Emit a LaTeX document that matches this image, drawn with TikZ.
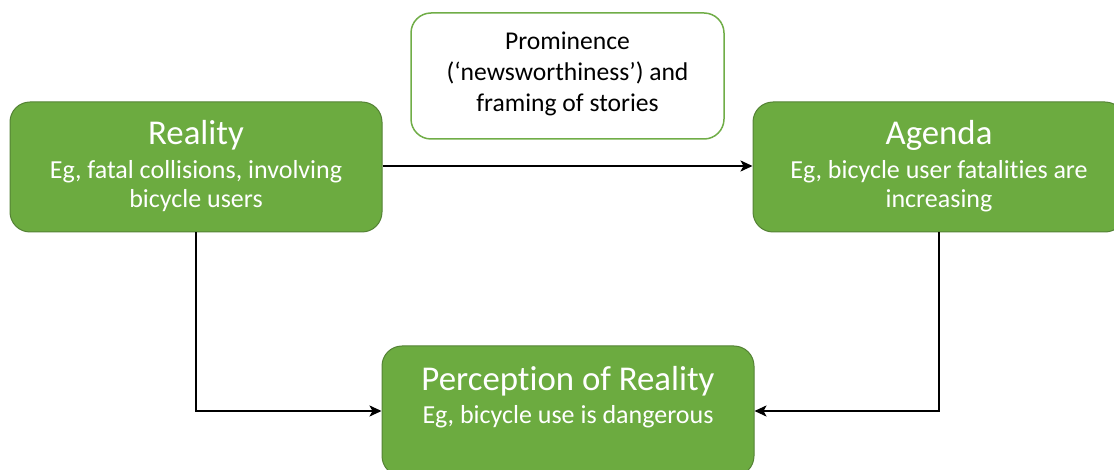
\documentclass[tikz,border=0pt]{standalone}
\usepackage{fontspec}
\setmainfont{Carlito}[Ligatures=NoCommon]
\usetikzlibrary{arrows.meta}
\definecolor{boxfill}{HTML}{6CAB40}
\definecolor{boxline}{HTML}{548235}
\definecolor{lightline}{HTML}{70AD47}
\tikzset{
  greenbox/.style={draw=boxline, line width=1pt, fill=boxfill, rounded corners=20pt, minimum width=372pt, minimum height=130pt, inner sep=0pt},
  whitebox/.style={draw=lightline, line width=1.5pt, fill=white, rounded corners=20pt, minimum width=313pt, minimum height=126pt, inner sep=0pt},
  titletext/.style={text=white, font=\fontsize{34.8}{40}\selectfont, anchor=base, inner sep=0pt},
  subtext/.style={text=white, font=\fontsize{26}{29}\selectfont, align=center, anchor=base, inner sep=0pt},
  blacktext/.style={text=black, font=\fontsize{25.6}{31.2}\selectfont, align=center, anchor=base, inner sep=0pt},
  conn/.style={draw=black, line width=2pt, -{Stealth[length=12pt,width=11pt,inset=3pt]}}
}
\begin{document}
\begin{tikzpicture}[x=1pt,y=-1pt]
\useasboundingbox (0,0) rectangle (1114,470);
\node[greenbox] (reality) at (196,167) {};
\node[greenbox] (agenda) at (939,167) {};
\node[greenbox] (perception) at (568,411) {};
\node[whitebox] (prominence) at (567.5,76) {};
\node[titletext] (realityT) at (196,145) {Reality};
\node[subtext] (realityS) at (196,208) {Eg, fatal collisions, involving\\bicycle users};
\node[titletext] (agendaT) at (939,145) {Agenda};
\node[subtext] (agendaS) at (939,208) {Eg, bicycle user fatalities are\\increasing};
\node[titletext] (perceptionT) at (568,390) {Perception of Reality};
\node[subtext] (perceptionS) at (568,423) {Eg, bicycle use is dangerous};
\node[blacktext] (promT) at (567.5,111.7) {Prominence\\(‘newsworthiness’) and\\framing of stories};
\coordinate (c1) at (196,411);
\coordinate (c2) at (939,411);
\draw[conn] (reality.east |- 0,166) -- (agenda.west |- 0,166);
\draw[conn] (reality.south) -- (c1) -- (perception.west);
\draw[conn] (agenda.south) -- (c2) -- (perception.east);
\end{tikzpicture}
\end{document}
